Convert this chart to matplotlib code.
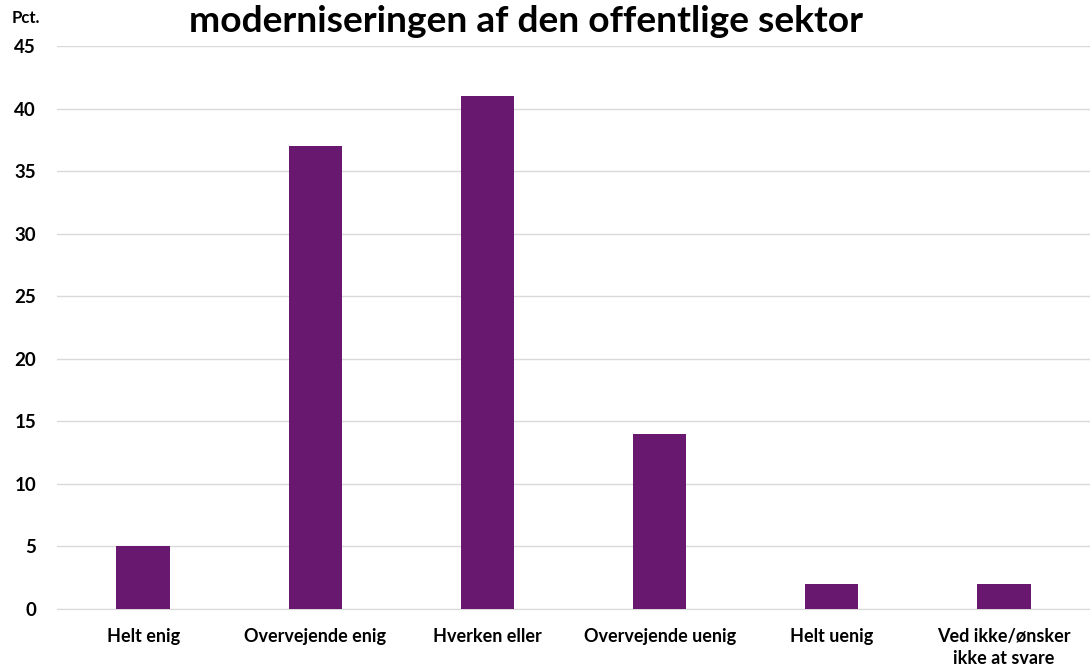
import matplotlib
matplotlib.use("Agg")
import matplotlib.pyplot as plt

categories = ["Helt enig", "Overvejende enig", "Hverken eller", "Overvejende uenig",
              "Helt uenig", "Ved ikke/ønsker\nikke at svare"]
values = [5, 37, 41, 14, 2, 2]
yticks = [0, 5, 10, 15, 20, 25, 30, 35, 40, 45]
title = "moderniseringen af den offentlige sektor"
ylabel = "Pct."

plt.rcParams['font.family'] = ['Lato', 'DejaVu Sans']
fig = plt.figure(figsize=(10.9, 6.7), dpi=100)
ax = fig.add_axes([57/1090, 1 - 609/670, 1 - 57/1090, (609 - 46)/670])

x = range(len(categories))
ax.bar(x, values, width=0.31, color="#68186f", zorder=3)
ax.set_xlim(-0.5, len(categories) - 0.5)
ax.set_ylim(0, 45)
ax.set_yticks(yticks)
ax.set_yticklabels([str(t) for t in yticks], fontsize=13.5, fontweight="bold")
ax.set_xticks(list(x))
ax.set_xticklabels(categories, fontsize=13, fontweight="bold", linespacing=1.3)
ax.tick_params(axis="y", length=0, pad=15)
ax.tick_params(axis="x", length=0, pad=14)
ax.grid(axis="y", color="#d9d9d9", linewidth=1, zorder=0)
for s in ["top", "right", "left"]:
    ax.spines[s].set_visible(False)
ax.spines["bottom"].set_color("#d9d9d9")

fig.text(526/1090, 1 - 22/670, title, fontsize=26.7, fontweight="bold",
         ha="center", va="center")
fig.text(26/1090, 1 - 18/670, ylabel, fontsize=12, fontweight="bold",
         ha="center", va="center")

fig.savefig("out.png", dpi=100)
